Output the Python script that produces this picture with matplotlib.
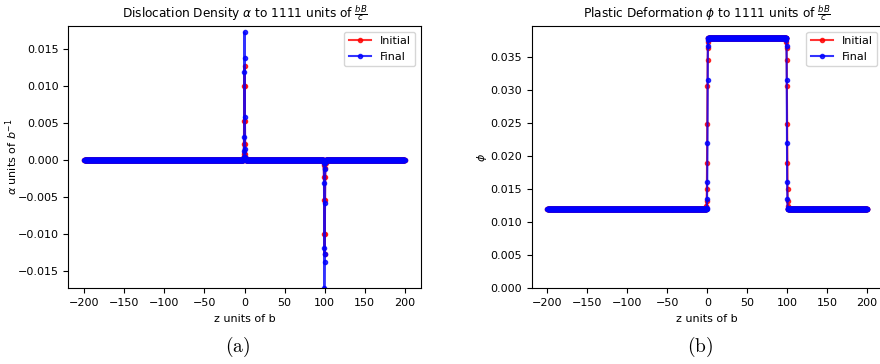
import numpy as np
import matplotlib
matplotlib.use("Agg")
import matplotlib.pyplot as plt

# sample positions along z (units of b)
z = np.linspace(-200, 200, 1601)

# dislocation density: zero background with a +/- pair of spikes at z=0 and z=100
alpha_base = 0.0
alpha_init_peak = [0.0003, 0.0009, 0.0022, 0.0053, 0.0100, 0.0127,
                   0.0100, 0.0053, 0.0022, 0.0009, 0.0003]
alpha_final_peak = [0.0004, 0.0012, 0.0032, 0.0120, 0.0173,
                    0.0138, 0.0058, 0.0015, 0.0004]
alpha_init_dip = [-0.0003, -0.0007, -0.0023, -0.0053, -0.0100, -0.0127,
                  -0.0100, -0.0053, -0.0023, -0.0010, -0.0003]
alpha_final_dip = [-0.0004, -0.0031, -0.0119, -0.0173, -0.0137,
                   -0.0126, -0.0058, -0.0012, -0.0004]

# plastic deformation: low/high levels and the points on the steps
phi_low = 0.012
phi_high = 0.0378
phi_init_rise = [0.0125, 0.0132, 0.0150, 0.0190, 0.0248, 0.0306, 0.0345, 0.0363, 0.0372]
phi_final_rise = [0.0122, 0.0135, 0.0160, 0.0220, 0.0315, 0.0367, 0.0375]
phi_init_fall = phi_init_rise[::-1]
phi_final_fall = phi_final_rise[::-1]


def place(arr, center, vals):
    start = center - len(vals) // 2
    arr[start:start + len(vals)] = vals
    return arr


i0 = int(np.argmin(np.abs(z - 0)))
i100 = int(np.argmin(np.abs(z - 100)))

alpha_init = np.full_like(z, alpha_base)
alpha_init = place(alpha_init, i0, alpha_init_peak)
alpha_init = place(alpha_init, i100, alpha_init_dip)
alpha_final = np.full_like(z, alpha_base)
alpha_final = place(alpha_final, i0, alpha_final_peak)
alpha_final = place(alpha_final, i100, alpha_final_dip)

phi_init = np.full_like(z, phi_low)
phi_init[i0:i100 + 1] = phi_high
phi_init[i0 - 4:i0 + 5] = phi_init_rise
phi_init[i100 - 4:i100 + 5] = phi_init_fall
phi_final = np.full_like(z, phi_low)
phi_final[i0:i100 + 1] = phi_high
phi_final[i0 - 2:i0 + 5] = phi_final_rise
phi_final[i100 - 4:i100 + 3] = phi_final_fall

fig = plt.figure(figsize=(8.8, 3.64), dpi=100)
W, H = 880, 364
ax1 = fig.add_axes([68.3 / W, 1 - 288.3 / H, (420.7 - 68.3) / W, (288.3 - 26) / H])
ax2 = fig.add_axes([531.5 / W, 1 - 288.3 / H, (883 - 531.5) / W, (288.3 - 26) / H])

fs = 8
for ax, yi, yf in [(ax1, alpha_init, alpha_final), (ax2, phi_init, phi_final)]:
    ax.plot(z, yi, marker=".", color="red", alpha=0.8, label="Initial")
    ax.plot(z, yf, marker=".", color="blue", alpha=0.8, label="Final")
    ax.set_xlim(-220, 220)
    ax.set_xlabel("z units of b", fontsize=fs)
    ax.tick_params(labelsize=fs)
    ax.legend(loc="upper right", fontsize=fs)

ax1.set_ylim(-0.0173, 0.01815)
ax1.set_title(r"Dislocation Density $\alpha$ to 1111 units of $\frac{bB}{c}$", fontsize=8.7)
ax1.set_ylabel(r"$\alpha$ units of $b^{-1}$", fontsize=fs)
ax1.yaxis.set_label_coords(-0.137, 0.5)

ax2.set_ylim(0, 0.03965)
ax2.set_title(r"Plastic Deformation $\phi$ to 1111 units of $\frac{bB}{c}$", fontsize=8.7)
ax2.set_ylabel(r"$\phi$", fontsize=fs)
ax2.yaxis.set_label_coords(-0.121, 0.5)

fig.text(238 / W, 1 - 347 / H, r"$\mathrm{(a)}$", ha="center", va="center",
         fontsize=14, math_fontfamily="cm")
fig.text(700 / W, 1 - 347 / H, r"$\mathrm{(b)}$", ha="center", va="center",
         fontsize=14, math_fontfamily="cm")

fig.savefig("out.png", dpi=100)
